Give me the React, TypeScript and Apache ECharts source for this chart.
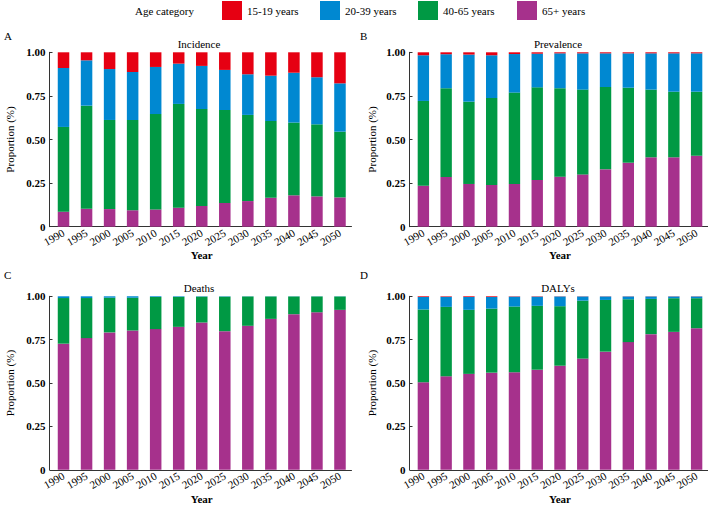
import React, { useEffect, useRef } from "react";
import * as echarts from "echarts";

const years = ["1990", "1995", "2000", "2005", "2010", "2015", "2020", "2025", "2030", "2035", "2040", "2045", "2050"];
const ageGroups = ["15-19 years", "20-39 years", "40-65 years", "65+ years"];
const colors = ["#E60012", "#0088D1", "#009944", "#A6318C"];
const panelTitles = ["Incidence", "Prevalence", "Deaths", "DALYs"];
const panelLetters = ["A", "B", "C", "D"];
const yTicks = [0, 0.25, 0.5, 0.75, 1];

// Incidence shares
const incidence15 = [0.090, 0.046, 0.096, 0.113, 0.084, 0.065, 0.078, 0.101, 0.126, 0.134, 0.117, 0.143, 0.178];
const incidence20 = [0.338, 0.260, 0.292, 0.275, 0.270, 0.231, 0.247, 0.230, 0.233, 0.260, 0.286, 0.270, 0.277];
const incidence40 = [0.486, 0.591, 0.511, 0.518, 0.547, 0.595, 0.556, 0.533, 0.494, 0.440, 0.417, 0.413, 0.377];
const incidence65 = [0.086, 0.103, 0.101, 0.094, 0.099, 0.109, 0.119, 0.136, 0.147, 0.166, 0.180, 0.174, 0.168];

// Prevalence shares
const prevalence15 = [0.017, 0.011, 0.013, 0.017, 0.010, 0.008, 0.006, 0.006, 0.006, 0.006, 0.006, 0.006, 0.006];
const prevalence20 = [0.262, 0.195, 0.270, 0.245, 0.221, 0.193, 0.200, 0.208, 0.193, 0.197, 0.208, 0.220, 0.220];
const prevalence40 = [0.486, 0.509, 0.472, 0.499, 0.524, 0.531, 0.507, 0.486, 0.472, 0.430, 0.388, 0.376, 0.367];
const prevalence65 = [0.235, 0.285, 0.245, 0.239, 0.245, 0.268, 0.287, 0.300, 0.329, 0.367, 0.398, 0.398, 0.407];

// Deaths shares
const deaths15 = [0, 0, 0, 0, 0, 0, 0, 0, 0, 0, 0, 0, 0];
const deaths20 = [0.010, 0.010, 0.008, 0.008, 0.004, 0.003, 0.002, 0.002, 0.001, 0.001, 0.001, 0.001, 0.001];
const deaths40 = [0.263, 0.231, 0.200, 0.189, 0.185, 0.173, 0.149, 0.199, 0.169, 0.129, 0.102, 0.091, 0.077];
const deaths65 = [0.727, 0.759, 0.792, 0.803, 0.811, 0.824, 0.849, 0.799, 0.830, 0.870, 0.897, 0.908, 0.922];

// DALYs shares
const dalys15 = [0.004, 0.003, 0.004, 0.004, 0.002, 0.002, 0.001, 0.001, 0.001, 0.001, 0.001, 0.001, 0.001];
const dalys20 = [0.072, 0.058, 0.074, 0.067, 0.057, 0.053, 0.056, 0.024, 0.020, 0.016, 0.014, 0.010, 0.010];
const dalys40 = [0.419, 0.400, 0.369, 0.369, 0.379, 0.368, 0.343, 0.334, 0.298, 0.247, 0.203, 0.194, 0.173];
const dalys65 = [0.505, 0.539, 0.553, 0.560, 0.562, 0.577, 0.600, 0.641, 0.681, 0.736, 0.782, 0.795, 0.816];

const panelData = [
  [incidence15, incidence20, incidence40, incidence65],
  [prevalence15, prevalence20, prevalence40, prevalence65],
  [deaths15, deaths20, deaths40, deaths65],
  [dalys15, dalys20, dalys40, dalys65],
];

const FONT = "'Liberation Serif', 'Times New Roman', serif";

export default function App() {
  const ref = useRef<HTMLDivElement>(null);

  useEffect(() => {
    if (!ref.current) return;
    const chart = echarts.init(ref.current, null, { renderer: "svg" });

    const lefts = [52, 412, 52, 412];
    const widths = [299.5, 299.7, 299.5, 299.7];
    const tops = [52.3, 52.3, 296.3, 296.3];
    const H = 174.4;

    const grids = lefts.map((l, i) => ({ left: l, top: tops[i], width: widths[i], height: H }));

    const xAxes = grids.map((_, i) => ({
      type: "category",
      gridIndex: i,
      data: years,
      name: "Year",
      nameLocation: "middle",
      nameGap: 23,
      nameTextStyle: { fontFamily: FONT, fontSize: 11, fontWeight: "bold", color: "#000" },
      axisLine: { show: true, lineStyle: { color: "#333", width: 1 } },
      axisTick: { show: false },
      axisLabel: { rotate: 30, fontFamily: FONT, fontSize: 11, color: "#000", margin: 5, interval: 0 },
      splitLine: { show: false },
    }));

    const yAxes = grids.map((_, i) => ({
      type: "value",
      gridIndex: i,
      min: 0,
      max: 1,
      interval: 0.25,
      offset: 2.5,
      name: "Proportion (%)",
      nameLocation: "middle",
      nameGap: i % 2 === 0 ? 34 : 32,
      nameTextStyle: { fontFamily: FONT, fontSize: 11, color: "#000" },
      axisLine: { show: true, lineStyle: { color: "#333", width: 1 } },
      axisTick: { show: true, inside: true, length: 3, lineStyle: { color: "#333" } },
      axisLabel: {
        fontFamily: FONT,
        fontSize: 11,
        fontWeight: "bold",
        color: "#000",
        margin: 4,
        formatter: (v: number) => (v === 0 ? "0" : yTicks.includes(v) ? v.toFixed(2) : ""),
      },
      splitLine: { show: false },
    }));

    const series: any[] = [];
    panelData.forEach((groups, p) => {
      [3, 2, 1, 0].forEach((g) => {
        series.push({
          type: "bar",
          name: ageGroups[g],
          xAxisIndex: p,
          yAxisIndex: p,
          stack: "panel" + p,
          data: groups[g],
          barWidth: "50%",
          itemStyle: { color: colors[g] },
        });
      });
    });

    const legendLefts = [222, 320, 418, 517];
    const legends = ageGroups.map((name, i) => ({
      data: [name],
      left: legendLefts[i],
      top: 1,
      padding: 0,
      itemWidth: 20,
      itemHeight: 19,
      icon: "rect",
      selectedMode: false,
      textStyle: { fontFamily: FONT, fontSize: 11, color: "#000" },
    }));

    const titleX = [199, 558, 199, 558];
    const graphics: any[] = [
      {
        type: "text",
        x: 135,
        y: 11,
        style: { text: "Age category", font: `11px ${FONT}`, fill: "#000", align: "left", verticalAlign: "middle" },
      },
    ];
    panelTitles.forEach((t, i) => {
      graphics.push({
        type: "text",
        x: titleX[i],
        y: tops[i] - 8.5,
        style: { text: t, font: `11px ${FONT}`, fill: "#000", align: "center", verticalAlign: "middle" },
      });
      graphics.push({
        type: "text",
        x: i % 2 === 0 ? 4 : 360,
        y: i < 2 ? 36 : 275,
        style: { text: panelLetters[i], font: `11px ${FONT}`, fill: "#000", align: "left", verticalAlign: "middle" },
      });
    });

    chart.setOption({
      animation: false,
      backgroundColor: "#fff",
      textStyle: { fontFamily: FONT },
      legend: legends,
      grid: grids,
      xAxis: xAxes,
      yAxis: yAxes,
      series,
      graphic: graphics,
    });

    return () => chart.dispose();
  }, []);

  return (
    <div
      ref={ref}
      style={{ position: "fixed", left: 0, top: 0, width: 708, height: 505 }}
    />
  );
}
